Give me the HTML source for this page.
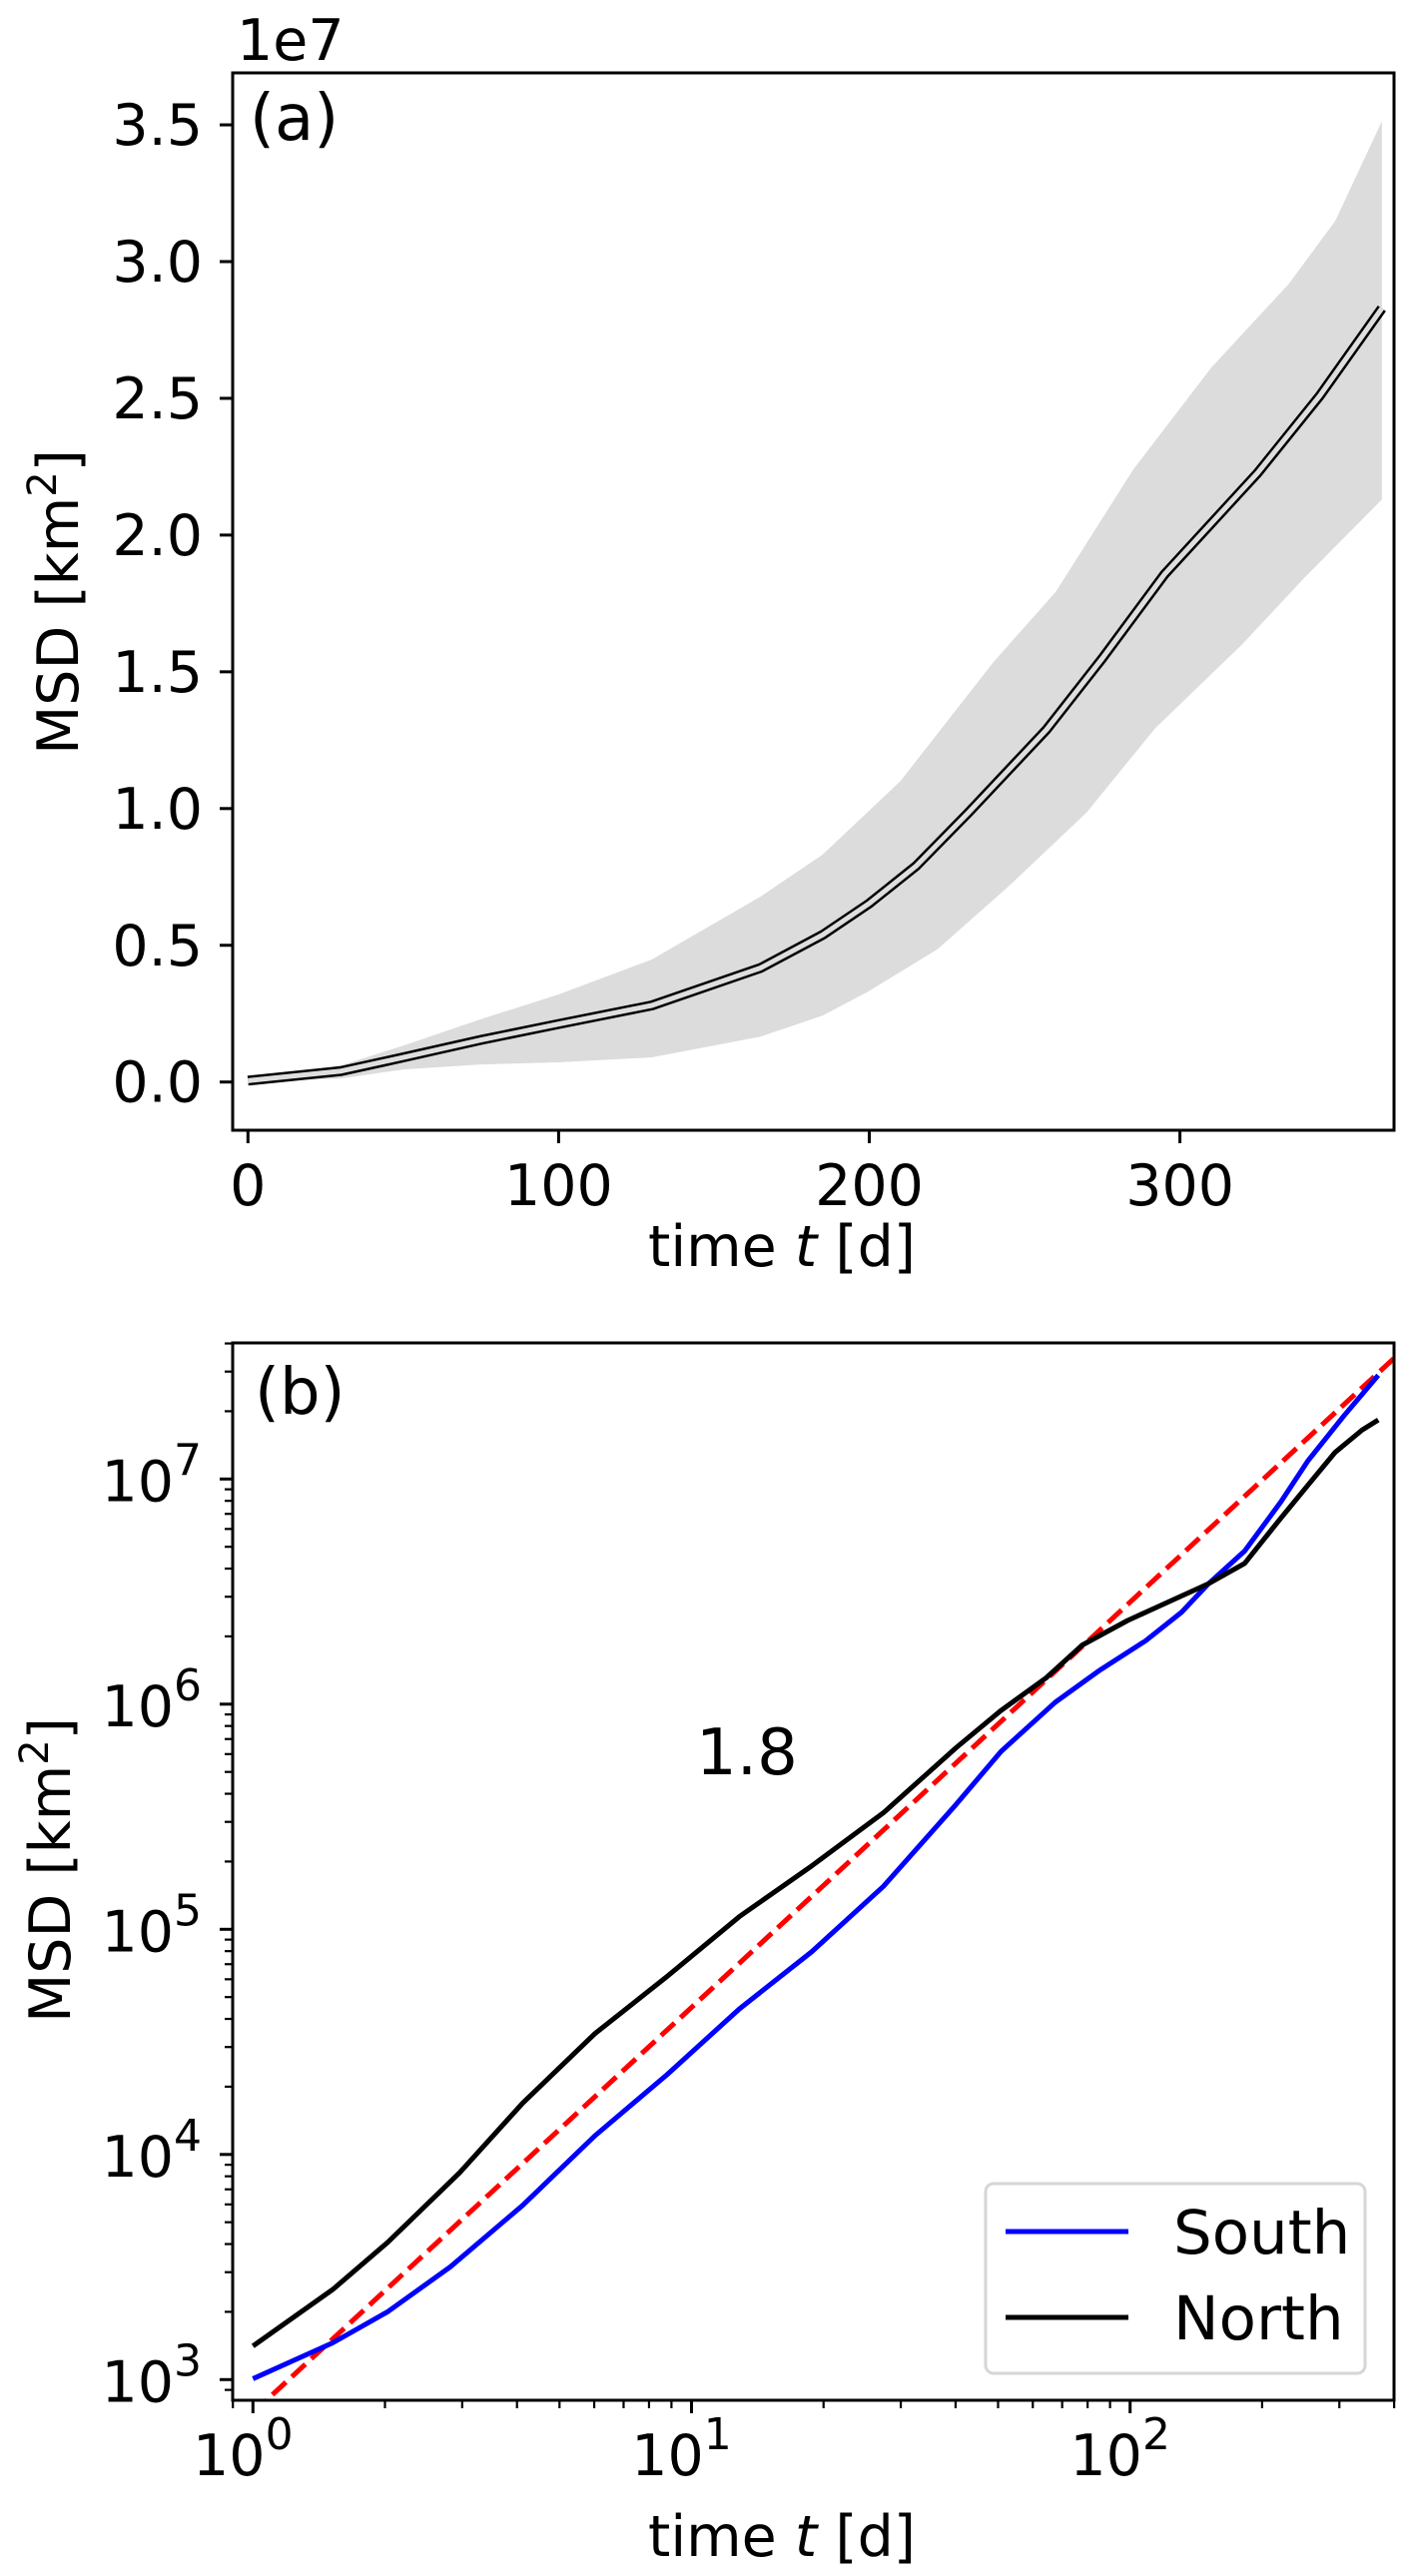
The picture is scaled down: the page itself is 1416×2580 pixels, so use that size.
<!DOCTYPE html>
<html><head><meta charset="utf-8"><style>
html,body{margin:0;padding:0;background:#fff}
svg{display:block;font-family:"DejaVu Sans","Liberation Sans",sans-serif}
</style></head><body>
<svg id="fig" width="1416" height="2580" viewBox="0 0 1416 2580" xmlns="http://www.w3.org/2000/svg">
<rect width="1416" height="2580" fill="#fff"/>
<g id="pa"></g>
<g id="pb"></g>
</svg>
<script>
// Panel (a) data: time [d], MSD in units of 1e7 km^2
const meanT = [0,30,50,75,100,130,165,185,200,215,232,257,275,295,325,345,365];
const meanV = [0.005,0.04,0.09,0.154,0.212,0.28,0.417,0.538,0.653,0.789,0.986,1.288,1.549,1.856,2.227,2.509,2.829];
const upperT = [0,30,50,75,100,130,165,185,210,240,260,285,310,335,350,365];
const upperV = [0.005,0.061,0.133,0.23,0.32,0.448,0.678,0.832,1.1,1.536,1.792,2.24,2.611,2.918,3.149,3.513];
const lowerT = [0,30,50,75,100,130,165,185,200,222,245,270,292,320,340,365];
const lowerV = [0.0,0.013,0.046,0.064,0.072,0.09,0.166,0.243,0.333,0.486,0.717,0.986,1.293,1.6,1.843,2.13];
const aXTicks = [0,100,200,300];
const aYTicks = [0.0,0.5,1.0,1.5,2.0,2.5,3.0,3.5];
const aYTickLabels = ["0.0","0.5","1.0","1.5","2.0","2.5","3.0","3.5"];

// Panel (b) data
const southT = [1,1.52,2.03,2.82,4.12,6.02,8.8,12.85,18.8,27.4,40.1,50.8,67.5,85.5,108.4,131,151,182.5,220.6,254,307,368];
const southV = [1009,1456,2003,3170,5940,12100,22650,44260,79500,155300,358400,617000,1019000,1420000,1910000,2560000,3430000,4790000,7910000,12000000,19050000,28900000];
const northT = [1,1.52,2.03,2.96,4.12,6.02,8.8,12.85,18.8,27.4,34,40.1,50.8,64.4,77.8,98.6,125,151,182.5,220.6,254,293,338,368];
const northV = [1409,2512,4074,8300,16900,34400,61800,113800,191300,329400,480000,640000,937600,1310000,1830000,2350000,2900000,3430000,4220000,6700000,9360000,13100000,16500000,18300000];
const fitT = [1,400];
const fitPrefactor = [713];
const fitSlope = [1.8];
const bXTickExps = [0,1,2];
const bYTickExps = [3,4,5,6,7];

const NS = "http://www.w3.org/2000/svg";
function mk(parent, tag, attrs, text){
  const e = document.createElementNS(NS, tag);
  for (const k in attrs) e.setAttribute(k, attrs[k]);
  if (text !== undefined) e.textContent = text;
  parent.appendChild(e);
  return e;
}
const FS = 57;

// ---------- Panel A ----------
const pa = document.getElementById('pa');
const A = {l:233, r:1396, t:73, b:1132};
const ax = t => 248.3 + t*3.111;
const ay = v => 1083.7 - v*273.9;

function pathFrom(T, V, fx, fy){
  return T.map((t,i)=> (i?'L':'M') + fx(t).toFixed(2) + ',' + fy(V[i]).toFixed(2)).join(' ');
}
let bandD = pathFrom(upperT, upperV, ax, ay);
for (let i = lowerT.length-1; i >= 0; i--) bandD += ' L' + ax(lowerT[i]).toFixed(2) + ',' + ay(lowerV[i]).toFixed(2);
bandD += ' Z';
const band = mk(pa, 'path', {d: bandD, fill: '#dcdcdc', stroke: 'none'});



const meanD = pathFrom(meanT, meanV, ax, ay);
const meanOuter = mk(pa, 'path', {d: meanD, fill: 'none', stroke: '#000', 'stroke-width': 10, 'stroke-linejoin': 'round'});


const meanInner = mk(pa, 'path', {d: meanD, fill: 'none', stroke: '#dedede', 'stroke-width': 5, 'stroke-linejoin': 'round'});



const frameA = mk(pa, 'rect', {x: A.l, y: A.t, width: A.r-A.l, height: A.b-A.t, fill: 'none', stroke: '#000', 'stroke-width': 3});



aXTicks.forEach(t => {
  const x = ax(t);
  const tk = mk(pa, 'line', {x1: x, x2: x, y1: A.b, y2: A.b+13, stroke: '#000', 'stroke-width': 3});
  
  
  const lb = mk(pa, 'text', {x: x, y: 1207, 'font-size': FS, 'text-anchor': 'middle'}, String(t));
  
  
});
aYTicks.forEach((v, i) => {
  const y = ay(v);
  const tk = mk(pa, 'line', {x1: A.l-13, x2: A.l, y1: y, y2: y, stroke: '#000', 'stroke-width': 3});
  
  
  const lb = mk(pa, 'text', {x: 203, y: y + 20, 'font-size': FS, 'text-anchor': 'end'}, aYTickLabels[i]);
  
  
});
const offA = mk(pa, 'text', {x: 237, y: 60, 'font-size': FS}, '1e7');


const tagA = mk(pa, 'text', {x: 250, y: 140, 'font-size': 64}, '(a)');


const xlA = mk(pa, 'text', {x: 783, y: 1268, 'font-size': FS, 'text-anchor': 'middle'});


xlA.innerHTML = 'time <tspan font-style="italic">t</tspan> [d]';
const ylA = mk(pa, 'text', {x: 0, y: 0, 'font-size': FS, 'text-anchor': 'middle', transform: 'translate(78,603) rotate(-90)'});


ylA.innerHTML = 'MSD [km<tspan font-size="40" dy="-22">2</tspan><tspan dy="22">]</tspan>';

// ---------- Panel B ----------
const pb = document.getElementById('pb');
const B = {l:233, r:1396, t:1345, b:2404};
const bx = t => 253.3 + Math.log10(t)*439.2;
const by = v => 2383.3 - (Math.log10(v)-3)*225.5;

const clip = mk(pb, 'clipPath', {id: 'clipB'});
mk(clip, 'rect', {x: B.l, y: B.t, width: B.r-B.l, height: B.b-B.t});

const fitV = fitT.map(t => fitPrefactor[0]*Math.pow(t, fitSlope[0]));
const fit = mk(pb, 'path', {d: pathFrom(fitT, fitV, bx, by), fill: 'none', stroke: '#ff0000', 'stroke-width': 5, 'stroke-dasharray': '18.5 8', 'clip-path': 'url(#clipB)'});


const south = mk(pb, 'path', {d: pathFrom(southT, southV, bx, by), fill: 'none', stroke: '#0000ff', 'stroke-width': 5, 'stroke-linejoin': 'round'});


const north = mk(pb, 'path', {d: pathFrom(northT, northV, bx, by), fill: 'none', stroke: '#000', 'stroke-width': 5, 'stroke-linejoin': 'round'});



const frameB = mk(pb, 'rect', {x: B.l, y: B.t, width: B.r-B.l, height: B.b-B.t, fill: 'none', stroke: '#000', 'stroke-width': 3});



for (let d = 0; d <= 2; d++) {
  for (let m = 1; m <= 9; m++) {
    const t = m*Math.pow(10, d);
    const x = bx(t);
    if (x < B.l-1 || x > B.r+1) continue;
    const major = m === 1;
    const tk = mk(pb, 'line', {x1: x, x2: x, y1: B.b, y2: B.b + (major ? 13 : 8), stroke: '#000', 'stroke-width': major ? 3 : 2.2});
    
    
  }
}
{
  const x = bx(0.9);
  const tk = mk(pb, 'line', {x1: x, x2: x, y1: B.b, y2: B.b + 8, stroke: '#000', 'stroke-width': 2.2});
  
  
}
bXTickExps.forEach(e => {
  const x = bx(Math.pow(10, e));
  const lb = mk(pb, 'text', {x: x - 10, y: 2479, 'font-size': FS, 'text-anchor': 'middle'});
  
  
  lb.innerHTML = '10<tspan font-size="44" dy="-26">' + e + '</tspan>';
});
for (let d = 2; d <= 7; d++) {
  for (let m = 1; m <= 9; m++) {
    const v = m*Math.pow(10, d);
    const y = by(v);
    if (y < B.t-1 || y > B.b+1) continue;
    const major = m === 1;
    const tk = mk(pb, 'line', {x1: B.l - (major ? 13 : 8), x2: B.l, y1: y, y2: y, stroke: '#000', 'stroke-width': major ? 3 : 2.2});
    
    
  }
}
bYTickExps.forEach(e => {
  const y = by(Math.pow(10, e));
  const lb = mk(pb, 'text', {x: 202, y: y + 22, 'font-size': FS, 'text-anchor': 'end'});
  
  
  lb.innerHTML = '10<tspan font-size="44" dy="-26">' + e + '</tspan>';
});
const tagB = mk(pb, 'text', {x: 255, y: 1416, 'font-size': 64}, '(b)');


const slopeLbl = mk(pb, 'text', {x: 697, y: 1777, 'font-size': 64}, '1.8');


const xlB = mk(pb, 'text', {x: 783, y: 2560, 'font-size': FS, 'text-anchor': 'middle'});


xlB.innerHTML = 'time <tspan font-style="italic">t</tspan> [d]';
const ylB = mk(pb, 'text', {x: 0, y: 0, 'font-size': FS, 'text-anchor': 'middle', transform: 'translate(70,1873) rotate(-90)'});


ylB.innerHTML = 'MSD [km<tspan font-size="40" dy="-22">2</tspan><tspan dy="22">]</tspan>';

const lg = mk(pb, 'g', {});


const lgBox = mk(lg, 'rect', {x: 987, y: 2187, width: 380, height: 190, rx: 8, fill: '#fff', 'fill-opacity': 0.8, stroke: '#d6d6d6', 'stroke-width': 3});


const ls = mk(lg, 'line', {x1: 1007, x2: 1130, y1: 2235, y2: 2235, stroke: '#0000ff', 'stroke-width': 5});


const lst = mk(lg, 'text', {x: 1175, y: 2257, 'font-size': 61}, 'South');


const ln = mk(lg, 'line', {x1: 1007, x2: 1130, y1: 2321, y2: 2321, stroke: '#000', 'stroke-width': 5});


const lnt = mk(lg, 'text', {x: 1175, y: 2343, 'font-size': 61}, 'North');


</script>
</body></html>
